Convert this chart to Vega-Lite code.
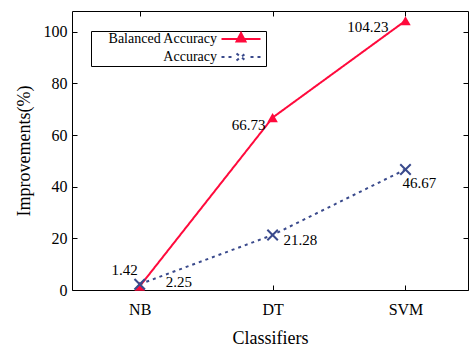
{
  "$schema": "https://vega.github.io/schema/vega-lite/v6.json",
  "width": 396,
  "height": 279,
  "autosize": {"type": "none"},
  "padding": {"left": 72, "top": 11, "right": 1, "bottom": 57},
  "background": "white",
  "config": {
    "view": {"stroke": "black", "strokeWidth": 1},
    "font": "Liberation Serif",
    "legend": {"labelFont": "Liberation Serif", "labelFontSize": 14, "labelColor": "black"},
    "text": {"font": "Liberation Serif"},
    "axis": {
      "grid": false,
      "domain": false,
      "tickColor": "black",
      "tickSize": -5,
      "tickWidth": 1,
      "labelFont": "Liberation Serif",
      "labelFontSize": 16,
      "labelColor": "black",
      "titleFont": "Liberation Serif",
      "titleFontSize": 18,
      "titleFontWeight": "normal",
      "titleColor": "black"
    }
  },
  "data": {
    "values": [
      {"classifier": "NB", "series": "Balanced Accuracy", "value": 1.42},
      {"classifier": "DT", "series": "Balanced Accuracy", "value": 66.73},
      {"classifier": "SVM", "series": "Balanced Accuracy", "value": 104.23},
      {"classifier": "NB", "series": "Accuracy", "value": 2.25},
      {"classifier": "DT", "series": "Accuracy", "value": 21.28},
      {"classifier": "SVM", "series": "Accuracy", "value": 46.67}
    ]
  },
  "resolve": {"axis": {"x": "independent", "y": "independent"}},
  "layer": [
    {
      "mark": {"type": "line", "strokeWidth": 2},
      "encoding": {
        "x": {
          "field": "classifier", "type": "nominal",
          "sort": ["NB", "DT", "SVM"],
          "scale": {"type": "point", "domain": ["NB", "DT", "SVM"], "padding": 0.49, "align": 0.52},
          "axis": {"orient": "bottom", "title": "Classifiers", "labelAngle": 0, "labelPadding": 16, "titlePadding": 12}
        },
        "y": {
          "field": "value", "type": "quantitative",
          "scale": {"domain": [0, 108], "nice": false, "zero": true},
          "axis": {"orient": "left", "values": [0, 20, 40, 60, 80, 100], "title": "Improvements(%)", "labelPadding": 10, "titlePadding": 10}
        },
        "color": {
          "field": "series", "type": "nominal",
          "scale": {"domain": ["Balanced Accuracy", "Accuracy"], "range": ["#ff0a3c", "#3a4a8c"]},
          "legend": {
            "orient": "none",
            "legendX": 19,
            "legendY": 20,
            "title": null,
            "strokeColor": "black",
            "fillColor": "white",
            "padding": 1,
            "labelAlign": "right",
            "labelOffset": -31,
            "symbolOffset": 142,
            "labelFont": "Liberation Serif",
            "labelFontSize": 14,
            "labelColor": "black",
            "symbolSize": 100,
            "symbolStrokeWidth": 2,
            "rowPadding": 3,
            "encode": {
              "labels": {
                "update": {
                  "font": {"value": "Liberation Serif"},
                  "fontSize": {"value": 14},
                  "fill": {"value": "black"}
                }
              },
              "symbols": {
                "update": {
                  "shape": {"signal": "datum.value === 'Accuracy' ? 'M-3.9,0H-3.3M-2.5,0H-1.9M-0.9,-0.7L0.9,0.7M-0.9,0.7L0.9,-0.7M1.9,0H2.5M3.3,0H3.9' : 'M-3.9,0H3.9M-0.9,0.5L0,-1.2L0.9,0.5Z'"},
                  "fill": {"signal": "datum.value === 'Accuracy' ? 'transparent' : '#ff0a3c'"},
                  "stroke": {"signal": "datum.value === 'Accuracy' ? '#3a4a8c' : '#ff0a3c'"},
                  "strokeDash": {"value": []},
                  "strokeWidth": {"value": 2},
                  "opacity": {"value": 1}
                }
              }
            }
          }
        },
        "strokeDash": {
          "field": "series", "type": "nominal",
          "scale": {"domain": ["Balanced Accuracy", "Accuracy"], "range": [[1, 0], [3, 4]]},
          "legend": null
        }
      }
    },
    {
      "transform": [{"filter": "datum.series === 'Balanced Accuracy'"}],
      "mark": {"type": "point", "shape": "triangle-up", "filled": true, "size": 110, "color": "#ff0a3c", "opacity": 1},
      "encoding": {
        "x": {"field": "classifier", "type": "nominal", "sort": ["NB", "DT", "SVM"],
          "axis": {"orient": "top", "labels": false, "title": null}},
        "y": {"field": "value", "type": "quantitative",
          "axis": {"orient": "right", "labels": false, "title": null, "values": [0, 20, 40, 60, 80, 100]}}
      }
    },
    {
      "transform": [{"filter": "datum.series === 'Accuracy'"}],
      "mark": {"type": "point", "shape": "M-1,-1L1,1M-1,1L1,-1", "filled": false, "size": 110, "stroke": "#3a4a8c", "strokeWidth": 2, "opacity": 1},
      "encoding": {
        "x": {"field": "classifier", "type": "nominal", "sort": ["NB", "DT", "SVM"], "axis": null},
        "y": {"field": "value", "type": "quantitative", "axis": null}
      }
    },
    {
      "transform": [{"filter": "datum.series === 'Balanced Accuracy' && datum.classifier === 'SVM'"}],
      "mark": {"type": "text", "align": "right", "baseline": "middle", "dx": -17, "dy": 6, "font": "Liberation Serif", "fontSize": 15, "color": "black"},
      "encoding": {
        "x": {"field": "classifier", "type": "nominal", "sort": ["NB", "DT", "SVM"], "axis": null},
        "y": {"field": "value", "type": "quantitative", "axis": null},
        "text": {"field": "value", "type": "quantitative", "format": ".2f"}
      }
    },
    {
      "transform": [{"filter": "datum.series === 'Balanced Accuracy' && datum.classifier === 'DT'"}],
      "mark": {"type": "text", "align": "right", "baseline": "middle", "dx": -7, "dy": 7, "font": "Liberation Serif", "fontSize": 15, "color": "black"},
      "encoding": {
        "x": {"field": "classifier", "type": "nominal", "sort": ["NB", "DT", "SVM"], "axis": null},
        "y": {"field": "value", "type": "quantitative", "axis": null},
        "text": {"field": "value", "type": "quantitative", "format": ".2f"}
      }
    },
    {
      "transform": [{"filter": "datum.series === 'Balanced Accuracy' && datum.classifier === 'NB'"}],
      "mark": {"type": "text", "align": "right", "baseline": "middle", "dx": -2, "dy": -16, "font": "Liberation Serif", "fontSize": 15, "color": "black"},
      "encoding": {
        "x": {"field": "classifier", "type": "nominal", "sort": ["NB", "DT", "SVM"], "axis": null},
        "y": {"field": "value", "type": "quantitative", "axis": null},
        "text": {"field": "value", "type": "quantitative", "format": ".2f"}
      }
    },
    {
      "transform": [{"filter": "datum.series === 'Accuracy' && datum.classifier === 'NB'"}],
      "mark": {"type": "text", "align": "left", "baseline": "middle", "dx": 26, "dy": -2, "font": "Liberation Serif", "fontSize": 15, "color": "black"},
      "encoding": {
        "x": {"field": "classifier", "type": "nominal", "sort": ["NB", "DT", "SVM"], "axis": null},
        "y": {"field": "value", "type": "quantitative", "axis": null},
        "text": {"field": "value", "type": "quantitative", "format": ".2f"}
      }
    },
    {
      "transform": [{"filter": "datum.series === 'Accuracy' && datum.classifier === 'DT'"}],
      "mark": {"type": "text", "align": "left", "baseline": "middle", "dx": 11, "dy": 5, "font": "Liberation Serif", "fontSize": 15, "color": "black"},
      "encoding": {
        "x": {"field": "classifier", "type": "nominal", "sort": ["NB", "DT", "SVM"], "axis": null},
        "y": {"field": "value", "type": "quantitative", "axis": null},
        "text": {"field": "value", "type": "quantitative", "format": ".2f"}
      }
    },
    {
      "transform": [{"filter": "datum.series === 'Accuracy' && datum.classifier === 'SVM'"}],
      "mark": {"type": "text", "align": "left", "baseline": "middle", "dx": -3, "dy": 14, "font": "Liberation Serif", "fontSize": 15, "color": "black"},
      "encoding": {
        "x": {"field": "classifier", "type": "nominal", "sort": ["NB", "DT", "SVM"], "axis": null},
        "y": {"field": "value", "type": "quantitative", "axis": null},
        "text": {"field": "value", "type": "quantitative", "format": ".2f"}
      }
    }
  ]
}
